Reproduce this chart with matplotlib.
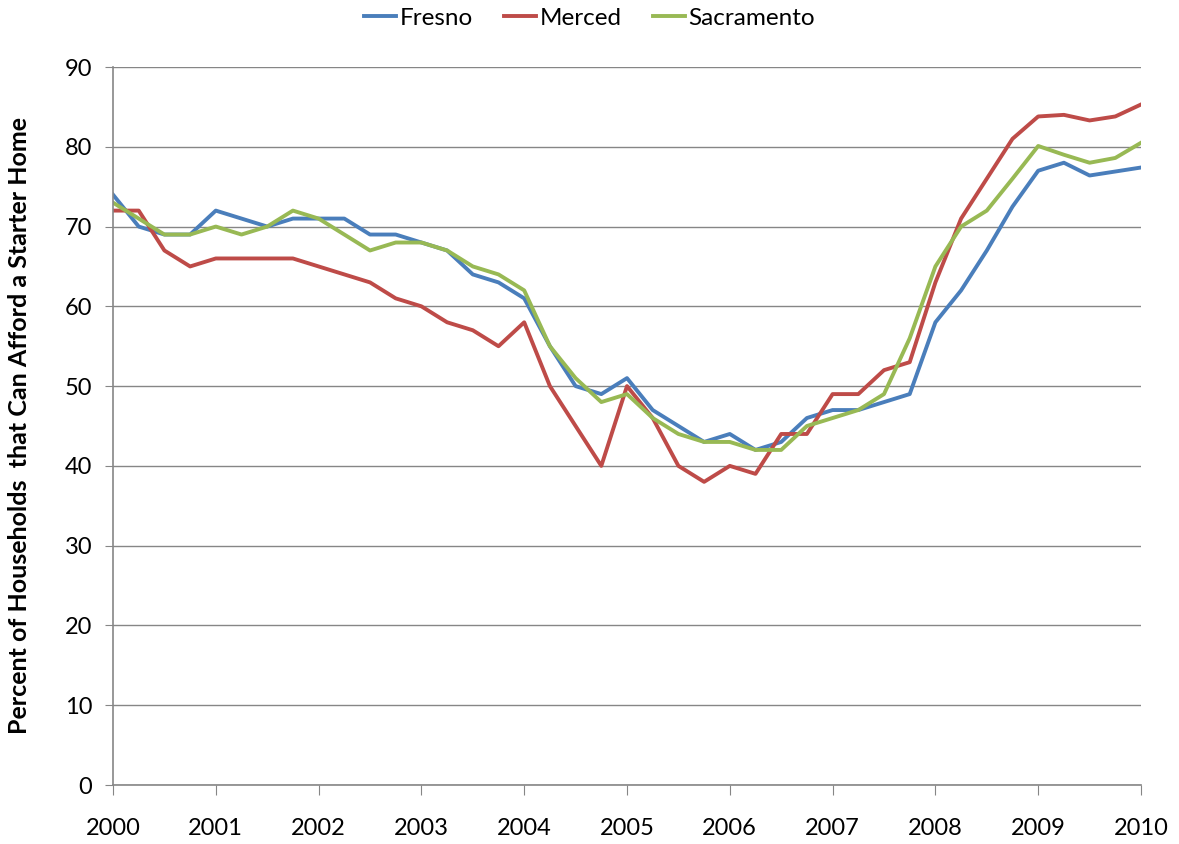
import matplotlib
matplotlib.use("Agg")
import matplotlib.pyplot as plt
import numpy as np

years = [2000, 2001, 2002, 2003, 2004, 2005, 2006, 2007, 2008, 2009, 2010]
fresno = [74, 70, 69, 69, 72, 71, 70, 71, 71, 71, 69, 69, 68, 67, 64, 63, 61, 55, 50, 49,
          51, 47, 45, 43, 44, 42, 43, 46, 47, 47, 48, 49, 58, 62, 67, 72.5, 77, 78, 76.4, 76.9, 77.4]
merced = [72, 72, 67, 65, 66, 66, 66, 66, 65, 64, 63, 61, 60, 58, 57, 55, 58, 50, 45, 40,
          50, 46, 40, 38, 40, 39, 44, 44, 49, 49, 52, 53, 63, 71, 76, 81, 83.8, 84, 83.3, 83.8, 85.3]
sacramento = [73, 71, 69, 69, 70, 69, 70, 72, 71, 69, 67, 68, 68, 67, 65, 64, 62, 55, 51, 48,
              49, 46, 44, 43, 43, 42, 42, 45, 46, 47, 49, 56, 65, 70, 72, 76, 80.1, 79, 78, 78.6, 80.5]
series_names = ["Fresno", "Merced", "Sacramento"]
colors = ["#4A7EBB", "#BE4B48", "#98B954"]

plt.rcParams['font.family'] = ['Lato', 'DejaVu Sans']

fig = plt.figure(figsize=(11.79, 8.44), dpi=100)
ax = fig.add_axes([113/1179, 1 - 785/844, (1141-113)/1179, (785-67)/844])

x = years[0] + np.arange(len(fresno)) / 4.0
for vals, name, c in zip([fresno, merced, sacramento], series_names, colors):
    ax.plot(x, vals, color=c, lw=2.8, label=name, solid_joinstyle='round')

ax.set_xlim(2000, 2010)
ax.set_ylim(0, 90)
ax.set_xticks(years)
ax.set_xticklabels([str(y) for y in years], fontsize=17)
ax.set_yticks(range(0, 91, 10))
ax.tick_params(axis='y', labelsize=17, length=6, color='#868686', pad=9)
ax.tick_params(axis='x', length=7, color='#868686', pad=17)
ax.grid(axis='y', color='#868686', lw=1)
ax.set_axisbelow(True)
for s in ['top', 'right']:
    ax.spines[s].set_visible(False)
for s in ['left', 'bottom']:
    ax.spines[s].set_color('#868686')
    ax.spines[s].set_linewidth(1.2)

ax.set_ylabel("Percent of Households  that Can Afford a Starter Home", fontsize=18,
              fontweight='bold')
ax.yaxis.set_label_coords(-82/1028, 0.5)

fig.legend(loc='center', bbox_to_anchor=(0.5, 1 - 18/844), ncol=3, frameon=False,
           fontsize=17.5, handlelength=1.3, handletextpad=0.15, columnspacing=1.3)

fig.savefig("out.png", dpi=100)
